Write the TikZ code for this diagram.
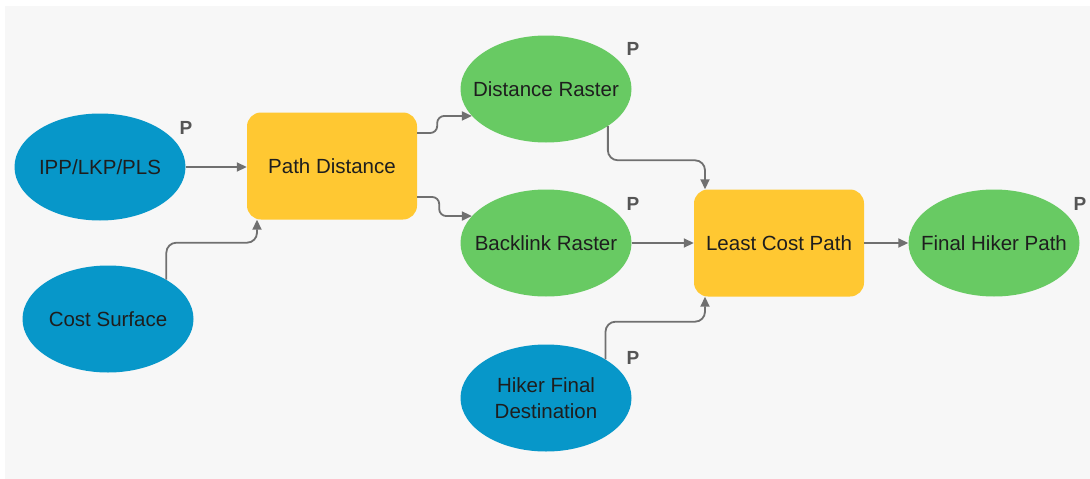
\documentclass[tikz,border=0pt]{standalone}
\usepackage{fontspec}
\setmainfont{Liberation Sans}
\usetikzlibrary{shapes.geometric,arrows.meta,calc}
\definecolor{bgc}{HTML}{F7F7F7}
\definecolor{bluec}{HTML}{0797C9}
\definecolor{greenc}{HTML}{68CA63}
\definecolor{yellowc}{HTML}{FFC832}
\definecolor{linec}{HTML}{707070}
\definecolor{txtc}{HTML}{1E1E1E}
\definecolor{pc}{HTML}{555555}
\newcommand{\zw}[1]{\makebox[0pt][c]{#1}}
\begin{document}
\begin{tikzpicture}[x=1pt,y=-1pt,
  lbl/.style={text=txtc,font=\fontsize{20.5}{26}\selectfont,align=center,inner sep=0pt},
  inputnode/.style={lbl,ellipse,fill=bluec,minimum width=171pt,minimum height=107pt},
  outnode/.style={lbl,ellipse,fill=greenc,minimum width=171pt,minimum height=107pt},
  toolnode/.style={lbl,rectangle,rounded corners=14pt,fill=yellowc,minimum width=170pt,minimum height=107pt},
  ptag/.style={text=pc,font=\fontsize{19}{19}\bfseries\selectfont,inner sep=0pt},
  conn/.style={draw=linec,line width=1.8pt,-{Triangle[length=10pt,width=9pt]}}]
\useasboundingbox (0,0) rectangle (1090,479);
\fill[white] (0,0) rectangle (1090,479);
\fill[bgc] (5,6) rectangle (1090,479);

\node[inputnode] (ipp) at (100,167) {\zw{IPP/LKP/PLS}};
\node[inputnode] (cs) at (108,319) {\zw{Cost Surface}};
\node[toolnode] (pd) at (332,166) {Path Distance};
\node[outnode] (dr) at (546,89) {\zw{Distance Raster}};
\node[outnode] (br) at (546,243) {\zw{Backlink Raster}};
\node[inputnode] (hk) at (546,398) {\zw{\parbox{200pt}{\centering Hiker Final\\Destination}}};
\node[toolnode] (lcp) at (779,243) {Least Cost Path};
\node[outnode] (fh) at (994,243) {\zw{Final Hiker Path}};

\node[ptag] (p1) at (186,128) {P};
\node[ptag] (p2) at (633,49) {P};
\node[ptag] (p3) at (633,204) {P};
\node[ptag] (p4) at (633,358) {P};
\node[ptag] (p5) at (1080,204) {P};

\draw[conn] (ipp.east) -- (ipp.east -| pd.west);
\draw[conn,rounded corners=10pt] (cs.34.5) |- ($(pd.south)+(-75,23)$) -- ($(pd.south)+(-75,0)$);
\draw[conn,rounded corners=7pt] ($(pd.east)+(0,-33)$) -- ++(20,0) |- (dr.200);
\draw[conn,rounded corners=7pt] ($(pd.east)+(0,31)$) -- ++(22,0) |- (br.160);
\draw[conn,rounded corners=10pt] (dr.-31) |- ($(lcp.north)+(-74,-29)$) -- ($(lcp.north)+(-74,0)$);
\draw[conn,rounded corners=10pt] (hk.33) |- ($(lcp.south)+(-74,25)$) -- ($(lcp.south)+(-74,0)$);
\draw[conn] (br.east) -- (lcp.west);
\draw[conn] (lcp.east) -- (fh.west);
\end{tikzpicture}
\end{document}
